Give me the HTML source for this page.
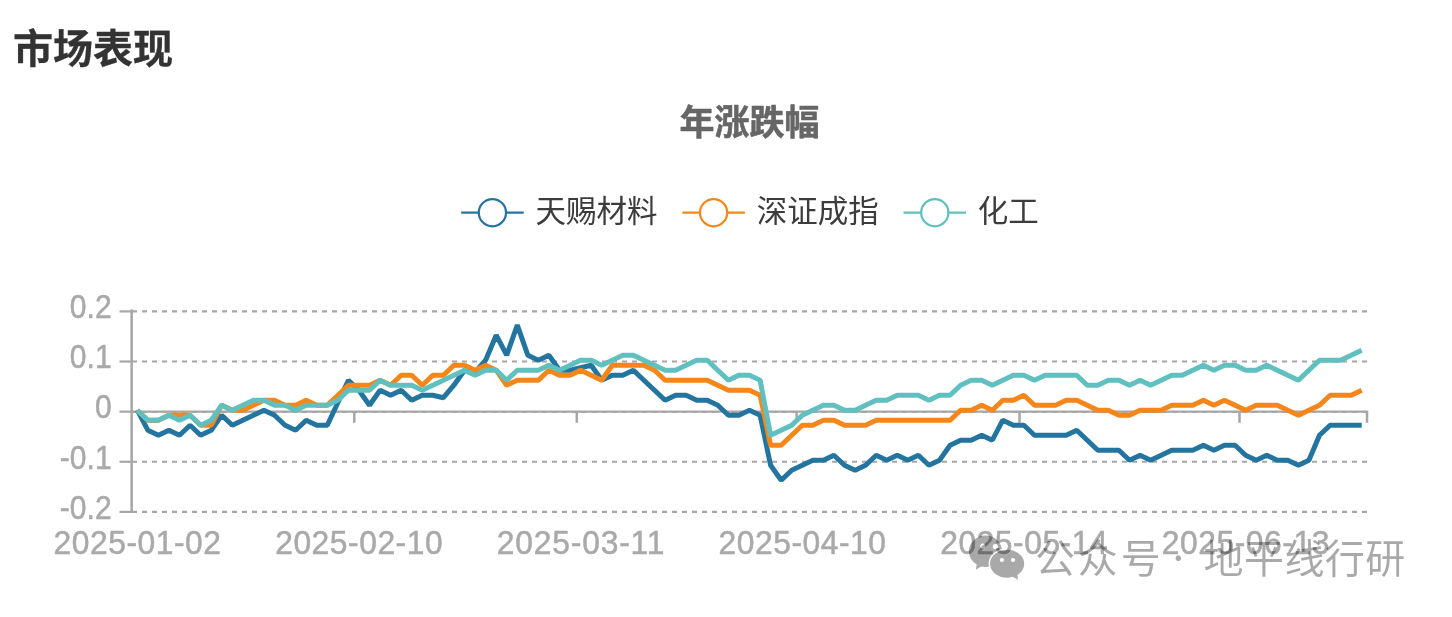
<!DOCTYPE html>
<html lang="zh-CN"><head><meta charset="utf-8"><title>市场表现</title>
<style>
html,body{margin:0;padding:0;background:#fff;}
body{width:1452px;height:617px;position:relative;overflow:hidden;font-family:"Liberation Sans","Noto Sans CJK SC",sans-serif;}
h2{position:absolute;left:13px;top:20px;margin:0;font-size:40px;line-height:58px;font-weight:bold;color:#333;letter-spacing:0;-webkit-text-stroke:0.3px #333;white-space:nowrap;}
</style></head><body>
<h2>市场表现</h2>
<svg width="1452" height="617" viewBox="0 0 1452 617" style="position:absolute;left:0;top:0">
<line x1="132.0" y1="311.41" x2="1367.0" y2="311.41" stroke="#a6a6a6" stroke-width="2.1" stroke-dasharray="5 5"/>
<line x1="132.0" y1="361.53" x2="1367.0" y2="361.53" stroke="#a6a6a6" stroke-width="2.1" stroke-dasharray="5 5"/>
<line x1="132.0" y1="412.05" x2="1367.0" y2="412.05" stroke="#a6a6a6" stroke-width="2.1" stroke-dasharray="5 5"/>
<line x1="132.0" y1="461.77" x2="1367.0" y2="461.77" stroke="#a6a6a6" stroke-width="2.1" stroke-dasharray="5 5"/>
<line x1="132.0" y1="511.89" x2="1367.0" y2="511.89" stroke="#a6a6a6" stroke-width="2.1" stroke-dasharray="5 5"/>
<line x1="131.65" y1="309.4" x2="131.65" y2="513.0" stroke="#a6a6a6" stroke-width="2.5"/>
<line x1="119.5" y1="311.41" x2="132.0" y2="311.41" stroke="#a6a6a6" stroke-width="2.2"/>
<line x1="119.5" y1="361.53" x2="132.0" y2="361.53" stroke="#a6a6a6" stroke-width="2.2"/>
<line x1="119.5" y1="411.65" x2="132.0" y2="411.65" stroke="#a6a6a6" stroke-width="2.2"/>
<line x1="119.5" y1="461.77" x2="132.0" y2="461.77" stroke="#a6a6a6" stroke-width="2.2"/>
<line x1="119.5" y1="511.89" x2="132.0" y2="511.89" stroke="#a6a6a6" stroke-width="2.2"/>
<line x1="132.0" y1="411.55" x2="1368.2" y2="411.55" stroke="#a6a6a6" stroke-width="2.3"/>
<line x1="354.3" y1="411.6" x2="354.3" y2="422.8" stroke="#a6a6a6" stroke-width="2.5"/>
<line x1="576.8" y1="411.6" x2="576.8" y2="422.8" stroke="#a6a6a6" stroke-width="2.5"/>
<line x1="796.6" y1="411.6" x2="796.6" y2="422.8" stroke="#a6a6a6" stroke-width="2.5"/>
<line x1="1019.5" y1="411.6" x2="1019.5" y2="422.8" stroke="#a6a6a6" stroke-width="2.5"/>
<line x1="1239.5" y1="411.6" x2="1239.5" y2="422.8" stroke="#a6a6a6" stroke-width="2.5"/>
<line x1="1367.0" y1="411.6" x2="1367.0" y2="422.8" stroke="#a6a6a6" stroke-width="2.5"/>
<g font-family="'Liberation Sans', sans-serif" font-size="31.8" fill="#a9a9a9" stroke="#a9a9a9" stroke-width="0.5">
<text transform="translate(111.6,318.2) scale(0.945,1.03)" text-anchor="end">0.2</text>
<text transform="translate(111.6,368.3) scale(0.945,1.03)" text-anchor="end">0.1</text>
<text transform="translate(111.6,418.4) scale(0.945,1.03)" text-anchor="end">0</text>
<text transform="translate(111.6,468.6) scale(0.945,1.03)" text-anchor="end">-0.1</text>
<text transform="translate(111.6,518.7) scale(0.945,1.03)" text-anchor="end">-0.2</text>
<text transform="translate(137.3,553.7) scale(1,1.05)" text-anchor="middle" textLength="167.5" lengthAdjust="spacing">2025-01-02</text>
<text transform="translate(358.9,553.7) scale(1,1.05)" text-anchor="middle" textLength="167.5" lengthAdjust="spacing">2025-02-10</text>
<text transform="translate(580.6,553.7) scale(1,1.05)" text-anchor="middle" textLength="167.5" lengthAdjust="spacing">2025-03-11</text>
<text transform="translate(802.3,553.7) scale(1,1.05)" text-anchor="middle" textLength="167.5" lengthAdjust="spacing">2025-04-10</text>
<text transform="translate(1023.9,553.7) scale(1,1.05)" text-anchor="middle" textLength="167.5" lengthAdjust="spacing">2025-05-14</text>
<text transform="translate(1245.6,553.7) scale(1,1.05)" text-anchor="middle" textLength="167.5" lengthAdjust="spacing">2025-06-13</text>
</g>
<polyline points="137.3,410.2 147.8,430.2 158.4,435.2 168.9,430.2 179.5,435.2 190.1,425.2 200.6,435.2 211.2,430.2 221.7,415.2 232.3,425.2 242.8,420.2 253.4,415.2 263.9,410.2 274.5,415.2 285.1,425.2 295.6,430.2 306.2,420.2 316.7,425.2 327.3,425.2 337.8,402.7 348.4,380.2 358.9,390.2 369.5,405.2 380.1,390.2 390.6,395.2 401.2,390.2 411.7,400.2 422.3,395.2 432.8,395.2 443.4,397.7 453.9,385.2 464.5,370.2 475.1,372.2 485.6,360.2 496.2,335.2 506.7,355.2 517.3,325.2 527.8,355.2 538.4,360.2 548.9,355.2 559.5,370.2 570.1,370.2 580.6,367.7 591.2,365.2 601.7,380.2 612.3,375.2 622.8,375.2 633.4,370.2 643.9,380.2 654.5,390.2 665.1,400.2 675.6,395.2 686.2,395.2 696.7,400.2 707.3,400.2 717.8,405.2 728.4,415.2 738.9,415.2 749.5,410.2 760.1,415.2 770.6,465.2 781.2,480.2 791.7,470.2 802.3,465.2 812.8,460.2 823.4,460.2 833.9,455.2 844.5,465.2 855.1,470.2 865.6,465.2 876.2,455.2 886.7,460.2 897.3,455.2 907.8,460.2 918.4,455.2 928.9,465.2 939.5,460.2 950.1,445.2 960.6,440.2 971.2,440.2 981.7,435.2 992.3,440.2 1002.8,420.2 1013.4,425.2 1023.9,425.2 1034.5,435.2 1045.1,435.2 1055.6,435.2 1066.2,435.2 1076.7,430.2 1087.3,440.2 1097.8,450.2 1108.4,450.2 1118.9,450.2 1129.5,460.2 1140.1,455.2 1150.6,460.2 1161.2,455.2 1171.7,450.2 1182.3,450.2 1192.8,450.2 1203.4,445.2 1213.9,450.2 1224.5,445.2 1235.1,445.2 1245.6,455.2 1256.2,460.2 1266.7,455.2 1277.3,460.2 1287.8,460.2 1298.4,465.2 1308.9,460.2 1319.5,435.2 1330.1,425.2 1340.6,425.2 1351.2,425.2 1361.7,425.2" fill="none" stroke="#2375a0" stroke-width="5" stroke-linejoin="bevel"/>
<polyline points="137.3,410.2 147.8,420.2 158.4,420.2 168.9,415.2 179.5,415.2 190.1,415.2 200.6,425.2 211.2,425.2 221.7,405.2 232.3,410.2 242.8,410.2 253.4,405.2 263.9,400.2 274.5,400.2 285.1,405.2 295.6,405.2 306.2,400.2 316.7,405.2 327.3,405.2 337.8,395.2 348.4,385.2 358.9,385.2 369.5,385.2 380.1,380.2 390.6,385.2 401.2,375.2 411.7,375.2 422.3,385.2 432.8,375.2 443.4,375.2 453.9,365.2 464.5,365.2 475.1,370.2 485.6,365.2 496.2,370.2 506.7,385.2 517.3,380.2 527.8,380.2 538.4,380.2 548.9,370.2 559.5,375.2 570.1,375.2 580.6,370.2 591.2,375.2 601.7,380.2 612.3,365.2 622.8,365.2 633.4,365.2 643.9,365.2 654.5,370.2 665.1,380.2 675.6,380.2 686.2,380.2 696.7,380.2 707.3,380.2 717.8,385.2 728.4,390.2 738.9,390.2 749.5,390.2 760.1,395.2 770.6,445.2 781.2,445.2 791.7,435.2 802.3,425.2 812.8,425.2 823.4,420.2 833.9,420.2 844.5,425.2 855.1,425.2 865.6,425.2 876.2,420.2 886.7,420.2 897.3,420.2 907.8,420.2 918.4,420.2 928.9,420.2 939.5,420.2 950.1,420.2 960.6,410.2 971.2,410.2 981.7,405.2 992.3,410.2 1002.8,400.2 1013.4,400.2 1023.9,395.2 1034.5,405.2 1045.1,405.2 1055.6,405.2 1066.2,400.2 1076.7,400.2 1087.3,405.2 1097.8,410.2 1108.4,410.2 1118.9,415.2 1129.5,415.2 1140.1,410.2 1150.6,410.2 1161.2,410.2 1171.7,405.2 1182.3,405.2 1192.8,405.2 1203.4,400.2 1213.9,405.2 1224.5,400.2 1235.1,405.2 1245.6,410.2 1256.2,405.2 1266.7,405.2 1277.3,405.2 1287.8,410.2 1298.4,415.2 1308.9,410.2 1319.5,405.2 1330.1,395.2 1340.6,395.2 1351.2,395.2 1361.7,390.2" fill="none" stroke="#f5871a" stroke-width="5" stroke-linejoin="bevel"/>
<polyline points="137.3,410.2 147.8,420.2 158.4,420.2 168.9,415.2 179.5,420.2 190.1,415.2 200.6,425.2 211.2,420.2 221.7,405.2 232.3,410.2 242.8,405.2 253.4,400.2 263.9,400.2 274.5,405.2 285.1,405.2 295.6,410.2 306.2,405.2 316.7,405.2 327.3,405.2 337.8,400.2 348.4,390.2 358.9,390.2 369.5,390.2 380.1,380.2 390.6,385.2 401.2,385.2 411.7,385.2 422.3,390.2 432.8,385.2 443.4,380.2 453.9,375.2 464.5,370.2 475.1,375.2 485.6,370.2 496.2,370.2 506.7,380.2 517.3,370.2 527.8,370.2 538.4,370.2 548.9,365.2 559.5,370.2 570.1,365.2 580.6,360.2 591.2,360.2 601.7,365.2 612.3,360.2 622.8,355.2 633.4,355.2 643.9,360.2 654.5,365.2 665.1,370.2 675.6,370.2 686.2,365.2 696.7,360.2 707.3,360.2 717.8,370.2 728.4,380.2 738.9,375.2 749.5,375.2 760.1,380.2 770.6,435.2 781.2,430.2 791.7,425.2 802.3,415.2 812.8,410.2 823.4,405.2 833.9,405.2 844.5,410.2 855.1,410.2 865.6,405.2 876.2,400.2 886.7,400.2 897.3,395.2 907.8,395.2 918.4,395.2 928.9,400.2 939.5,395.2 950.1,395.2 960.6,385.2 971.2,380.2 981.7,380.2 992.3,385.2 1002.8,380.2 1013.4,375.2 1023.9,375.2 1034.5,380.2 1045.1,375.2 1055.6,375.2 1066.2,375.2 1076.7,375.2 1087.3,385.2 1097.8,385.2 1108.4,380.2 1118.9,380.2 1129.5,385.2 1140.1,380.2 1150.6,385.2 1161.2,380.2 1171.7,375.2 1182.3,375.2 1192.8,370.2 1203.4,365.2 1213.9,370.2 1224.5,365.2 1235.1,365.2 1245.6,370.2 1256.2,370.2 1266.7,365.2 1277.3,370.2 1287.8,375.2 1298.4,380.2 1308.9,370.2 1319.5,360.2 1330.1,360.2 1340.6,360.2 1351.2,355.2 1361.7,350.2" fill="none" stroke="#60bfbf" stroke-width="5" stroke-linejoin="bevel"/>
<line x1="461.2" y1="212.7" x2="523.7" y2="212.7" stroke="#2375a0" stroke-width="2.2"/><circle cx="492.4" cy="212.7" r="13.6" fill="#fff" stroke="#2375a0" stroke-width="2.2"/>
<line x1="682.4" y1="212.7" x2="744.9" y2="212.7" stroke="#f5871a" stroke-width="2.2"/><circle cx="713.6" cy="212.7" r="13.6" fill="#fff" stroke="#f5871a" stroke-width="2.2"/>
<line x1="903.5" y1="212.7" x2="966.0" y2="212.7" stroke="#60bfbf" stroke-width="2.2"/><circle cx="934.8" cy="212.7" r="13.6" fill="#fff" stroke="#60bfbf" stroke-width="2.2"/>
<g font-family="'Liberation Sans', 'Noto Sans CJK SC', sans-serif" font-size="30.5" fill="#3c3c3c">
<text x="535.5" y="221.6">天赐材料</text>
<text x="756.7" y="221.6">深证成指</text>
<text x="977.8" y="221.6">化工</text>
</g>
<text x="749.5" y="135" text-anchor="middle" font-family="'Liberation Sans', 'Noto Sans CJK SC', sans-serif" font-weight="bold" font-size="35" fill="#666" stroke="#666" stroke-width="0.55" stroke-linejoin="round">年涨跌幅</text>
<defs><mask id="wm" maskUnits="userSpaceOnUse" x="950" y="520" width="100" height="80"><rect x="950" y="520" width="100" height="80" fill="#fff"/><ellipse cx="1007.1" cy="563.7" rx="18.5" ry="15.4" fill="#000"/></mask></defs>
<g opacity="0.335" fill="#000">
<g mask="url(#wm)"><path fill-rule="evenodd" d="M985.5,535.5c9.2,0,16.6,7.1,16.6,15.800s-7.400,15.800-16.600,15.800c-1.500,0-2.900-0.200-4.300-0.500l-5.400,3.200l0.900-5.300c-4.700-2.800-7.800-7.700-7.800-13.200c0-8.700,7.400-15.800,16.600-15.800z M982.700,543.600a2.600,2.600,0,1,0,0.010,0z M995.300,544.000a2.600,2.600,0,1,0,0.010,0z"/></g>
<path fill-rule="evenodd" d="M1007.1,549.700c9.400,0,17.100,6.300,17.100,14.000c0,4.600-2.700,8.600-6.800,11.200l0.600,4.900l-5.300-3.000c-1.800,0.500-3.700,0.900-5.600,0.900c-9.400,0-17.100-6.300-17.100-14.000s7.700-14.000,17.100-14.000z M1001.900,557.900a2.100,2.100,0,1,0,0.010,0z M1013.000,557.900a2.100,2.100,0,1,0,0.010,0z"/>
<g font-family="'Liberation Sans', 'Noto Sans CJK SC', sans-serif" font-size="40">
<text x="1034.9" y="572.5" letter-spacing="2.9">公众号</text>
<text x="1167.1" y="573.4" lang="ja" font-size="41" font-family="'Noto Sans CJK JP', sans-serif">·</text>
<text x="1203.5" y="572.5" letter-spacing="0.45">地平线行研</text>
</g>
</g>
</svg>
</body></html>
